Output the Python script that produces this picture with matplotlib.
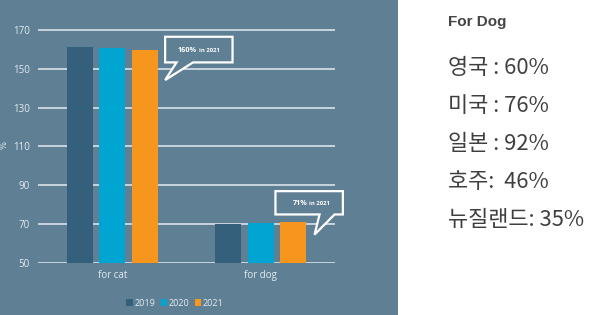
import matplotlib.pyplot as plt
from matplotlib.patches import Polygon, Rectangle
import numpy as np

categories = ["for cat", "for dog"]
years = ["2019", "2020", "2021"]
values_2019 = [161, 70]
values_2020 = [160.5, 70.7]
values_2021 = [159.5, 71.3]
bar_colors = ["#35607b", "#00a6d1", "#f7961c"]
y_ticks = [50, 70, 90, 110, 130, 150, 170]

side_title = "For Dog"
side_lines = ["영국 : 60%", "미국 : 76%", "일본 : 92%", "호주:  46%", "뉴질랜드: 35%"]

bg = "#5f8094"
fg = "#e3ebf1"

W, H = 600, 315
fig = plt.figure(figsize=(6, 3.15), dpi=100)
fig.patch.set_facecolor("white")
fig.patches.append(Rectangle((0, 0), 398 / W, 1, transform=fig.transFigure,
                             facecolor=bg, edgecolor="none", zorder=-10))

ax = fig.add_axes([38 / W, 1 - 263 / H, (335 - 38) / W, (263 - 26.1) / H])
ax.set_facecolor("none")

x = np.arange(len(categories))
width = 0.175
step = 0.22
series = [values_2019, values_2020, values_2021]
for i, vals in enumerate(series):
    ax.bar(x + (i - 1) * step, np.array(vals) - 50, width, bottom=50,
           color=bar_colors[i], label=years[i], zorder=3)

ax.set_xlim(-0.5, 1.5)
ax.set_ylim(50, 172)
ax.set_yticks(y_ticks)
ax.grid(axis="y", color=fg, lw=1.1, zorder=1)
for s in ax.spines.values():
    s.set_visible(False)
ax.tick_params(axis="y", length=0, colors=fg, labelsize=7, pad=6)
ax.tick_params(axis="x", length=0, colors=fg, labelsize=7, pad=5)
ax.set_xticks(x)
ax.set_xticklabels(categories)
for t in ax.get_yticklabels() + ax.get_xticklabels():
    t.set_fontfamily("Open Sans")
ax.set_ylabel("%", color=fg, fontsize=6, labelpad=3)


def callout(left, right, top, bottom, base0, base1, tip, big, small):
    pts = [(left, top), (right, top), (right, bottom), (base1, bottom),
           tip, (base0, bottom), (left, bottom)]
    ax.add_patch(Polygon(pts, closed=True, facecolor=bg, edgecolor="white",
                         lw=1.6, zorder=4, clip_on=False, joinstyle="miter"))
    cx = (left + right) / 2
    cy = (top + bottom) / 2 - 1.3
    ax.text(cx - 0.012, cy, big, color="white", fontsize=5.2, fontweight="bold",
            ha="right", va="baseline", zorder=5, family="Open Sans")
    ax.text(cx - 0.002, cy, small, color="white", fontsize=4.2,
            fontweight="bold", ha="left", va="baseline", zorder=5, family="Open Sans")


callout(0.356, 0.81, 166.5, 153.3, 0.433, 0.544, (0.356, 144.2),
        "160%", "in 2021")
callout(1.099, 1.553, 87.0, 75.0, 1.396, 1.497, (1.362, 64.6),
        "71%", "in 2021")

leg = ax.legend(loc="center", bbox_to_anchor=(175 / W, 1 - 303 / H),
                bbox_transform=fig.transFigure, ncol=3, frameon=False,
                handlelength=0.7, handleheight=0.7,
                handletextpad=0.2, columnspacing=0.6,
                prop={"family": "Open Sans", "size": 6.5})
for t in leg.get_texts():
    t.set_color(fg)

kr = ["Noto Sans CJK KR", "DejaVu Sans"]
fig.text(448 / W, 1 - 22 / H, side_title, fontsize=11, fontweight="bold",
         color="#444444", va="center", ha="left", family=["Liberation Sans"])
for k, line in enumerate(side_lines):
    fig.text(448 / W, 1 - (68 + 38 * k) / H, line, fontsize=15.8,
             color="#3f3f3f", va="center", ha="left", family=kr)

fig.savefig("out.png", dpi=100, facecolor="white")
